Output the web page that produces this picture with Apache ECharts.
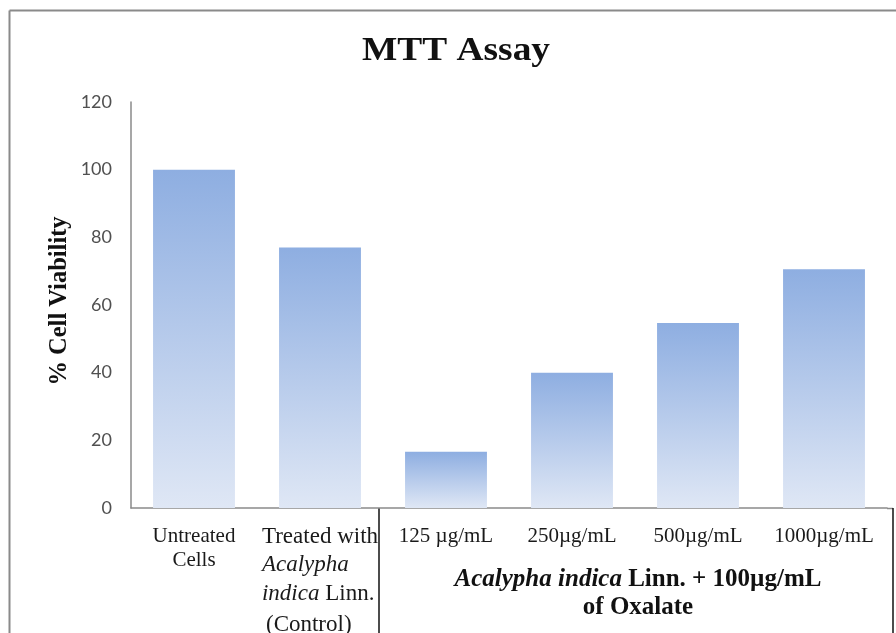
<!DOCTYPE html>
<html>
<head>
<meta charset="utf-8">
<script src="https://cdn.jsdelivr.net/npm/echarts@6/dist/echarts.min.js"></script>
<style>
  html, body { margin: 0; padding: 0; background: #ffffff; }
  #chart { width: 896px; height: 633px; }
</style>
</head>
<body>
<div id="chart"></div>
<script>
// MTT assay: % cell viability per treatment
const categories = ['Untreated', 'Treated', '125', '250', '500', '1000'];
const viability = [100, 77, 16.6, 40, 54.7, 70.6];
const yTicks = { min: 0, max: 120, step: 20 };

const titleText = 'MTT Assay';
const yAxisTitle = '% Cell Viability';

// Rich-text label for each category
const categoryLabels = {
  'Untreated': '{n|Untreated}\n{n|Cells}',
  'Treated': '{t|Treated with}\n{ti|Acalypha}\n{ti|indica}{tl| Linn.}\n{tc|(Control)}',
  '125': '{n|125 µg/mL}',
  '250': '{n|250µg/mL}',
  '500': '{n|500µg/mL}',
  '1000': '{n|1000µg/mL}'
};

const serif = '"Liberation Serif", "Times New Roman", serif';
const grid = { left: 131, top: 102, right: 9, bottom: 125, outerBoundsMode: 'none', containLabel: false };

const chart = echarts.init(document.getElementById('chart'));

const barGradient = new echarts.graphic.LinearGradient(0, 0, 0, 1, [
  { offset: 0, color: '#8eaee1' },
  { offset: 1, color: '#dfe7f5' }
]);

chart.setOption({
  animation: false,
  backgroundColor: '#ffffff',
  grid: grid,
  xAxis: {
    type: 'category',
    data: categories,
    axisLine: { show: true, lineStyle: { color: '#8a8a8a', width: 1.5 } },
    axisTick: { show: false },
    axisLabel: {
      interval: 0,
      margin: 16,
      color: '#1a1a1a',
      fontFamily: serif,
      formatter: v => categoryLabels[v],
      rich: {
        n: { fontFamily: serif, fontSize: 21, lineHeight: 24, color: '#1a1a1a' },
        t: { fontFamily: serif, fontSize: 23, lineHeight: 26, color: '#1a1a1a', align: 'left' },
        ti: { fontFamily: serif, fontSize: 23, lineHeight: 29, fontStyle: 'italic', color: '#1a1a1a', align: 'left' },
        tl: { fontFamily: serif, fontSize: 23, lineHeight: 29, color: '#1a1a1a', align: 'left' },
        tc: { fontFamily: serif, fontSize: 23, lineHeight: 32, color: '#1a1a1a', align: 'left', padding: [2, 0, 0, 4] }
      }
    }
  },
  yAxis: {
    type: 'value',
    min: yTicks.min,
    max: yTicks.max,
    interval: yTicks.step,
    axisLine: { show: true, lineStyle: { color: '#8a8a8a', width: 1.5 } },
    axisTick: { show: false },
    splitLine: { show: false },
    axisLabel: {
      margin: 19,
      color: '#505050',
      fontSize: 18,
      fontFamily: 'Lato, "Liberation Sans", sans-serif'
    }
  },
  series: [{
    type: 'bar',
    data: viability,
    barCategoryGap: '35%',
    itemStyle: { color: barGradient }
  }],
  graphic: [
    // frame edges
    { type: 'line', shape: { x1: 9.5, y1: 10.5, x2: 896, y2: 10.5 }, style: { stroke: '#8a8a8a', lineWidth: 2 } },
    { type: 'line', shape: { x1: 9.5, y1: 10.5, x2: 9.5, y2: 633 }, style: { stroke: '#8a8a8a', lineWidth: 2 } },
    // axis line continuation and group bracket
    { type: 'line', shape: { x1: 887, y1: 508.5, x2: 893, y2: 508.5 }, style: { stroke: '#8a8a8a', lineWidth: 1.5 } },
    { type: 'line', shape: { x1: 379, y1: 508, x2: 379, y2: 633 }, style: { stroke: '#111111', lineWidth: 1.5 } },
    { type: 'line', shape: { x1: 893, y1: 508, x2: 893, y2: 633 }, style: { stroke: '#111111', lineWidth: 1.5 } },
    // chart title
    {
      type: 'text', x: 456, y: 51, scaleX: 1.1,
      style: {
        text: titleText, fill: '#111111',
        font: 'bold 34px ' + serif,
        textAlign: 'center', textVerticalAlign: 'middle'
      }
    },
    // y axis title
    {
      type: 'text', x: 60, y: 301, rotation: Math.PI / 2,
      style: {
        text: yAxisTitle, fill: '#111111',
        font: 'bold 24.5px ' + serif,
        textAlign: 'center', textVerticalAlign: 'middle'
      }
    },
    // group label under the extract doses
    {
      type: 'text', x: 638, y: 594,
      style: {
        text: '{bi|Acalypha indica}{b| Linn. + 100µg/mL}\n{b|of Oxalate}',
        textAlign: 'center', textVerticalAlign: 'middle',
        rich: {
          bi: { font: 'italic bold 25px ' + serif, fill: '#111111', lineHeight: 28 },
          b: { font: 'bold 25px ' + serif, fill: '#111111', lineHeight: 28 }
        }
      }
    }
  ]
});
</script>
</body>
</html>
